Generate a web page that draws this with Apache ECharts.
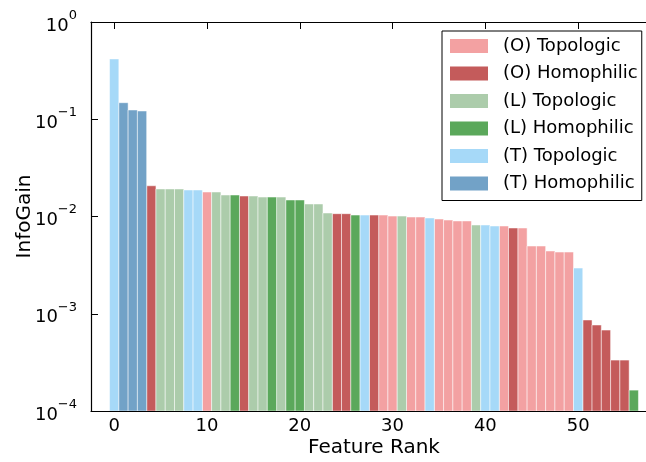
<!DOCTYPE html>
<html>
<head>
<meta charset="utf-8">
<script src="https://cdn.jsdelivr.net/npm/echarts@6/dist/echarts.min.js"></script>
<style>
html,body{margin:0;padding:0;background:#fff;}
#chart{width:646px;height:462px;}
</style>
</head>
<body>
<div id="chart"></div>
<script>
// ---- data ----
const groupNames = ['(O) Topologic', '(O) Homophilic', '(L) Topologic', '(L) Homophilic', '(T) Topologic', '(T) Homophilic'];
const groupColors = ['#f3a1a2', '#c45b5b', '#acccab', '#5ba85b', '#a6d9f8', '#72a2c7'];
// group index of the feature at each rank (0..56)
const featureGroup = [
  4, 5, 5, 5, 1, 2, 2, 2, 4, 4,
  0, 2, 2, 3, 1, 2, 2, 3, 2, 3,
  3, 2, 2, 2, 1, 1, 3, 4, 1, 0,
  0, 2, 0, 0, 4, 0, 0, 0, 0, 2,
  4, 4, 0, 1, 0, 0, 0, 0, 0, 0,
  4, 1, 1, 1, 1, 1, 3
];
// info gain of the feature at each rank
const infoGain = [
  0.417, 0.148, 0.1245, 0.1216, 0.0207, 0.0192, 0.0192, 0.0192, 0.01874, 0.01874,
  0.01786, 0.01786, 0.01664, 0.01664, 0.01625, 0.01625, 0.01585, 0.01585, 0.01585, 0.01479,
  0.01479, 0.01345, 0.01345, 0.01086, 0.01069, 0.01069, 0.01035, 0.01035, 0.01035, 0.01035,
  0.0101, 0.0101, 0.00988, 0.00988, 0.00966, 0.00942, 0.0092, 0.009, 0.009, 0.00818,
  0.00818, 0.00799, 0.00799, 0.00762, 0.00762, 0.00497, 0.00497, 0.00442, 0.00431, 0.00431,
  0.00295, 0.000863, 0.000766, 0.00068, 0.000334, 0.000334, 0.000164
];
const xTicks = [0, 10, 20, 30, 40, 50];
const yMin = 1e-4, yMax = 1;
const yMinorMantissas = [2, 3, 4, 5, 6, 7, 8, 9];
const yDecades = [-4, -3, -2, -1];
// minor tick positions on the log axis (given as log10 of the value)
const yMinorTicks = [];
yDecades.forEach(e => yMinorMantissas.forEach(m => yMinorTicks.push(e + Math.log10(m))));

// ---- chart ----
const FONT = 'DejaVu Sans';
const chart = echarts.init(document.getElementById('chart'), null, {renderer: 'canvas'});

const series = groupNames.map((name, g) => ({
  name: name,
  type: 'custom',
  xAxisIndex: 0,
  yAxisIndex: 0,
  clip: true,
  itemStyle: {color: groupColors[g]},
  encode: {x: 0, y: 1},
  data: infoGain.map((v, i) => [i, v, featureGroup[i]]).filter(d => d[2] === g).map(d => [d[0], d[1]]),
  renderItem: function (params, api) {
    const x = api.value(0), v = api.value(1);
    const p0 = api.coord([x - 0.5, v]);
    const p1 = api.coord([x + 0.5, yMin]);
    return {
      type: 'rect',
      shape: {x: p0[0], y: p0[1], width: p1[0] - p0[0], height: p1[1] - p0[1]},
      style: {fill: api.visual('color'), stroke: '#ffffff', lineWidth: 0.5}
    };
  }
}));

const axisLine = {show: true, onZero: false, lineStyle: {color: '#000', width: 1.2}};

chart.setOption({
  animation: false,
  backgroundColor: '#fff',
  grid: {left: 91, right: -11, top: 22, bottom: 51, containLabel: false, outerBoundsMode: 'none'},
  legend: {
    orient: 'vertical', left: 442, top: 31,
    itemWidth: 38, itemHeight: 14, itemGap: 9.5,
    padding: [6, 4, 8, 8],
    borderColor: '#000', borderWidth: 1, backgroundColor: '#fff',
    icon: 'rect', selectedMode: false,
    data: groupNames,
    textStyle: {fontFamily: FONT, fontSize: 18, color: '#000', padding: [0, 0, 0, 10]}
  },
  xAxis: [{
    type: 'value', min: -2.5, max: 58.5, position: 'bottom',
    axisLine: axisLine,
    splitLine: {show: false},
    axisTick: {show: true, inside: true, length: 7, customValues: xTicks, lineStyle: {color: '#000', width: 1}},
    axisLabel: {customValues: xTicks, fontFamily: FONT, fontSize: 18, color: '#000', margin: 6},
    name: 'Feature Rank', nameLocation: 'middle', nameGap: 27, nameMoveOverlap: false,
    nameTextStyle: {fontFamily: FONT, fontSize: 20, color: '#000'}
  }, {
    type: 'value', min: -2.5, max: 58.5, position: 'top',
    axisLine: axisLine,
    splitLine: {show: false},
    axisTick: {show: true, inside: true, length: 7, customValues: xTicks, lineStyle: {color: '#000', width: 1}},
    axisLabel: {show: false}
  }],
  yAxis: [{
    type: 'log', logBase: 10, min: yMin, max: yMax, position: 'left',
    axisLine: axisLine,
    splitLine: {show: false},
    axisTick: {show: true, inside: true, length: 7, lineStyle: {color: '#000', width: 1}},
    axisLabel: {
      margin: 14, color: '#000',
      formatter: function (v) {
        const e = Math.round(Math.log10(v));
        return '{b|10}{s|' + (e < 0 ? '\u2212' + (-e) : e) + '}';
      },
      rich: {
        b: {fontFamily: FONT, fontSize: 18, color: '#000', lineHeight: 26, verticalAlign: 'bottom'},
        s: {fontFamily: FONT, fontSize: 13, color: '#000', lineHeight: 26, verticalAlign: 'top'}
      }
    },
    name: 'InfoGain', nameLocation: 'middle', nameGap: 56, nameMoveOverlap: false,
    nameTextStyle: {fontFamily: FONT, fontSize: 20, color: '#000'}
  }, {
    type: 'log', logBase: 10, min: yMin, max: yMax, position: 'left',
    axisLine: {show: false, onZero: false},
    splitLine: {show: false},
    axisTick: {show: true, inside: true, length: 4, customValues: yMinorTicks, lineStyle: {color: '#000', width: 1}},
    axisLabel: {show: false}
  }],
  series: series
});
</script>
</body>
</html>
